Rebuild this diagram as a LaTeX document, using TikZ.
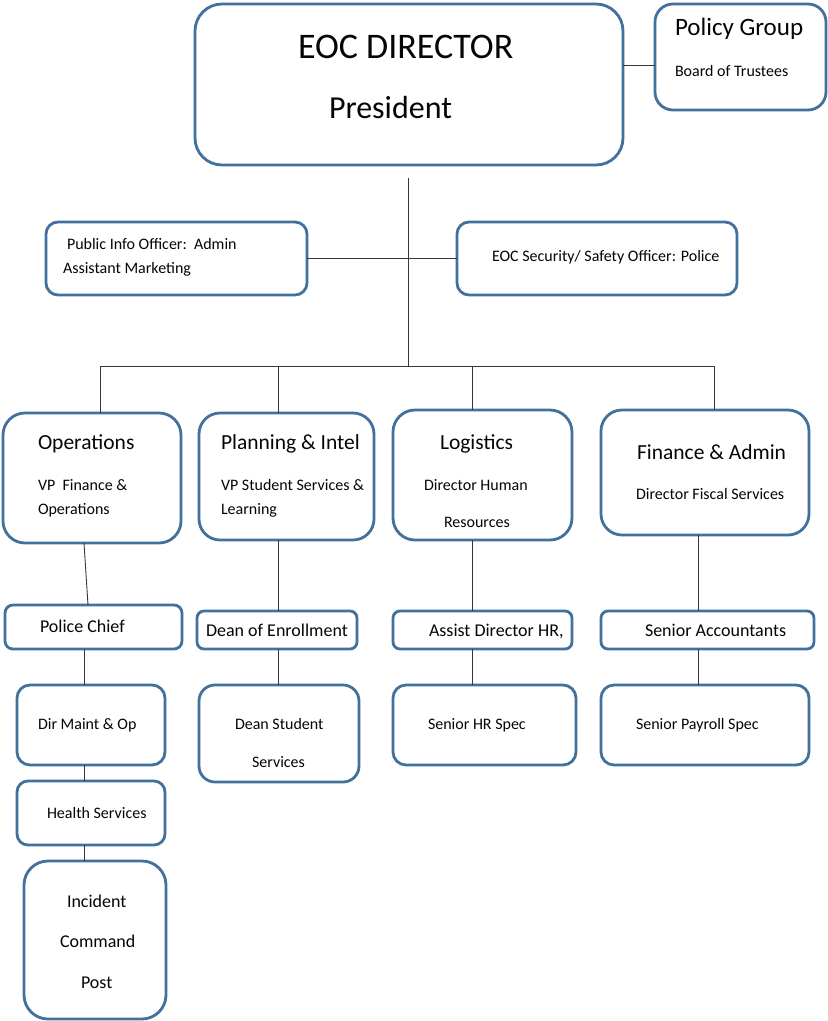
\documentclass[tikz,border=0pt]{standalone}
\usepackage{fontspec}
\setmainfont{Carlito}
\definecolor{bblue}{RGB}{65,113,156}
\definecolor{lcol}{RGB}{55,55,55}
\definecolor{tcol}{RGB}{5,5,5}
\newcommand{\szf}[1]{\fontsize{#1}{#1}\selectfont}
\tikzset{
  box/.style={draw=bblue, line width=2.8pt, rounded corners=#1, fill=white, inner sep=0pt, outer sep=0pt},
  conn/.style={draw=lcol, line width=0.9pt},
  txt/.style={anchor=base west, inner sep=0pt, outer sep=0pt, text=tcol, font=\szf{#1}},
}
\begin{document}
\begin{tikzpicture}[x=1pt,y=-1pt]
\fill[white] (0,0) rectangle (828,1021);
\useasboundingbox (0,0) rectangle (828,1021);

% boxes
\node[box=27, minimum width=428pt, minimum height=161pt] (dir) at (409,84.5) {};
\node[box=18, minimum width=171pt, minimum height=106pt] (pol) at (740.5,57) {};
\node[box=12, minimum width=261pt, minimum height=73pt] (pio) at (176.5,258.5) {};
\node[box=12, minimum width=280pt, minimum height=73pt] (sec) at (597,258.5) {};
\node[box=22, minimum width=178pt, minimum height=130pt] (ops) at (92,478) {};
\node[box=21, minimum width=175pt, minimum height=127pt] (plan) at (286.5,476.5) {};
\node[box=22, minimum width=179pt, minimum height=130pt] (log) at (482.5,475) {};
\node[box=21, minimum width=208pt, minimum height=125pt] (fin) at (705,472.5) {};
\node[box=8, minimum width=177pt, minimum height=44pt] (pc) at (93.5,627) {};
\node[box=7, minimum width=160pt, minimum height=38pt] (de) at (277,630) {};
\node[box=7, minimum width=179pt, minimum height=38pt] (adh) at (482.5,630) {};
\node[box=7, minimum width=213pt, minimum height=38pt] (sa) at (707.5,630) {};
\node[box=13, minimum width=148pt, minimum height=80pt] (dmo) at (91,725) {};
\node[box=16, minimum width=160pt, minimum height=97pt] (dss) at (279,733.5) {};
\node[box=13, minimum width=183pt, minimum height=80pt] (shr) at (484.5,725) {};
\node[box=13, minimum width=208pt, minimum height=80pt] (sps) at (705,725) {};
\node[box=11, minimum width=148pt, minimum height=64pt] (hs) at (91,813) {};
\node[box=24, minimum width=142pt, minimum height=158pt] (icp) at (95,940) {};

% connectors
\coordinate (top) at (408,178);
\coordinate (bus) at (408,366);
\coordinate (b1) at (100,366);
\coordinate (b2) at (278,366);
\coordinate (b3) at (472,366);
\coordinate (b4) at (714,366);
\draw[conn] ([yshift=-8pt]pol.west) -- ([yshift=-8pt]pol.west -| dir.east);
\draw[conn] (top) -- (bus);
\draw[conn] (pio.east) -- (sec.west);
\draw[conn] (b1) -- (b4);
\draw[conn] (b1) -- (b1 |- ops.north);
\draw[conn] (b2) -- (b2 |- plan.north);
\draw[conn] (b3) -- (b3 |- log.north);
\draw[conn] (b4) -- (b4 |- fin.north);
\draw[conn] ([xshift=-8pt]ops.south) -- ([xshift=-5.5pt]pc.north);
\draw[conn] ([xshift=-7pt]dmo.north) -- ([xshift=-7pt]dmo.north |- pc.south);
\draw[conn] ([xshift=-7pt]hs.north) -- ([xshift=-7pt]hs.north |- dmo.south);
\draw[conn] ([xshift=-11pt]icp.north) -- ([xshift=-11pt]icp.north |- hs.south);
\draw[conn] ([xshift=1pt]de.north) -- ([xshift=1pt]de.north |- plan.south);
\draw[conn] ([xshift=-1pt]dss.north) -- ([xshift=-1pt]dss.north |- de.south);
\draw[conn] ([xshift=-10.5pt]adh.north) -- ([xshift=-10.5pt]adh.north |- log.south);
\draw[conn] ([xshift=-12.5pt]shr.north) -- ([xshift=-12.5pt]shr.north |- adh.south);
\draw[conn] ([xshift=-9.5pt]sa.north) -- ([xshift=-9.5pt]sa.north |- fin.south);
\draw[conn] ([xshift=-7pt]sps.north) -- ([xshift=-7pt]sps.north |- sa.south);

% texts
\node[txt=36] (t1) at (298,58) {EOC DIRECTOR};
\node[txt=32] (t2) at (329,118) {President};
\node[txt=25] (t3) at (675,35) {Policy Group};
\node[txt=16] (t4) at (675,76) {Board of Trustees};
\node[txt=16] (t5) at (67,249) {Public Info Officer:\ \ Admin};
\node[txt=16] (t6) at (63,273) {Assistant Marketing};
\node[txt=16] (t7) at (492,261) {EOC Security/ Safety Officer: Police};
\node[txt=21.5] (t8) at (38,449) {Operations};
\node[txt=16] (t9) at (38,490) {VP\ \ Finance \&};
\node[txt=16] (t10) at (38,514) {Operations};
\node[txt=21.5] (t11) at (221,449) {Planning \& Intel};
\node[txt=16] (t12) at (221,490) {VP Student Services \&};
\node[txt=16] (t13) at (221,514) {Learning};
\node[txt=21.5] (t14) at (440,449) {Logistics};
\node[txt=16] (t15) at (424,490) {Director Human};
\node[txt=16] (t16) at (444,527) {Resources};
\node[txt=21.5] (t17) at (637,459) {Finance \& Admin};
\node[txt=16] (t18) at (636,499) {Director Fiscal Services};
\node[txt=18] (t19) at (40,632) {Police Chief};
\node[txt=18] (t20) at (206,636) {Dean of Enrollment};
\node[txt=18] (t21) at (429,636) {Assist Director HR,};
\node[txt=18] (t22) at (645,636) {Senior Accountants};
\node[txt=16] (t23) at (38,729) {Dir Maint \& Op};
\node[txt=16] (t24) at (235,729) {Dean Student};
\node[txt=16] (t25) at (252,767) {Services};
\node[txt=16] (t26) at (428,729) {Senior HR Spec};
\node[txt=16] (t27) at (636,729) {Senior Payroll Spec};
\node[txt=16] (t28) at (47,818) {Health Services};
\node[txt=18] (t29) at (67,907) {Incident};
\node[txt=18] (t30) at (60,947) {Command};
\node[txt=18] (t31) at (81,988) {Post};
\end{tikzpicture}
\end{document}
